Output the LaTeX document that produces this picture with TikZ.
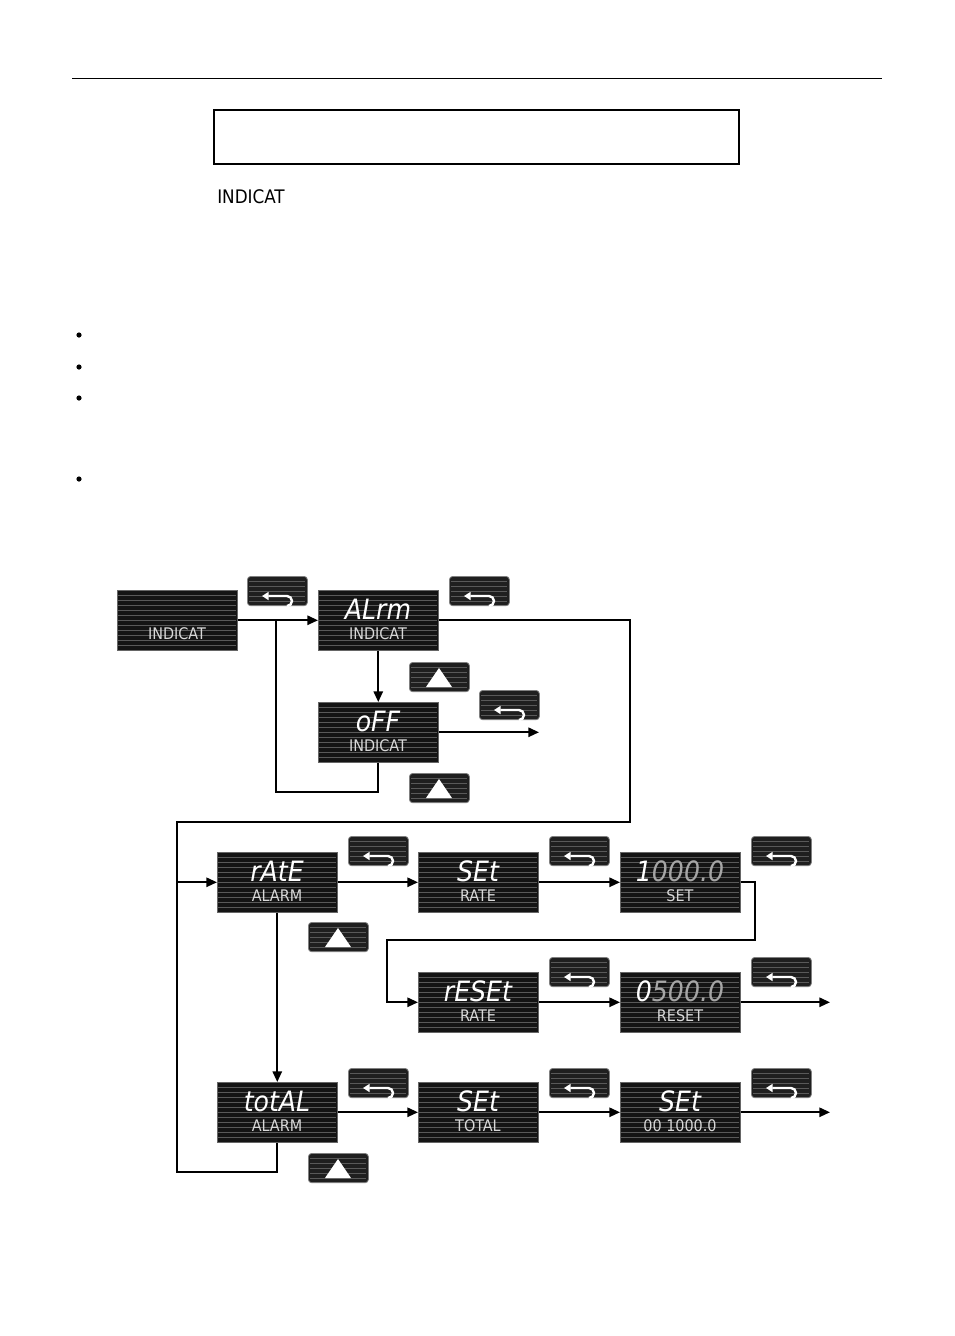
\documentclass[tikz,border=0pt]{standalone}
\usepackage{fontspec}
\setmainfont{DejaVu Sans}
\newfontfamily\lcd{DejaVu Sans Condensed}
\usetikzlibrary{arrows.meta}
\begin{document}
\begin{tikzpicture}[x=0.75pt,y=-0.75pt,
  conn/.style={line width=1.4pt},
  arr/.style={line width=1.4pt,-{Triangle[length=8pt,width=7pt]}},
  disp/.style={fill=black!92,draw=black!60,line width=0.4pt},
  btn/.style={fill=black!88,draw=black!50,rounded corners=2.5pt,line width=0.6pt}]
\useasboundingbox (0,0) rectangle (954,1336);
\fill[white] (0,0) rectangle (954,1336);
\draw[line width=0.6pt] (72,78) -- (882,78);
\draw[line width=0.8pt] (214,110) rectangle (739,164);
\node[anchor=west,inner sep=0,font=\lcd\fontsize{14}{14}\selectfont] (ind) at (217,197) {INDICAT};
\foreach \yy [count=\i] in {335,367,398,479} \fill (79,\yy) circle (2.6);
\newcommand\lcdbox[5]{% name, x, y, top, bottom
  \node[disp,minimum width=90pt,minimum height=45pt,inner sep=0,anchor=north west] (#1) at (#2,#3) {};
  \foreach \k in {1,...,11} \draw[black!65,line width=0.3pt] (#2+1,#3+5*\k) -- (#2+119,#3+5*\k);
  \node[white,font=\lcd\fontsize{21}{21}\selectfont\itshape] at (#2+60,#3+19) {#4};
  \node[white!85!black,font=\lcd\fontsize{12}{12}\selectfont] at (#2+60,#3+44) {#5};}
\newcommand\enterbtn[3]{%
  \node[btn,minimum width=45pt,minimum height=22pt,inner sep=0,anchor=north west] (#1) at (#2,#3) {};
  \foreach \k in {1,...,5} \draw[black!65,line width=0.3pt] (#2+2,#3+5*\k) -- (#2+58,#3+5*\k);
  \draw[white,line width=1.8pt,{Triangle[length=5pt,width=6pt]}-] (#2+15,#3+20) -- (#2+40,#3+20) arc[start angle=-90,end angle=90,radius=5];}
\newcommand\upbtn[3]{%
  \node[btn,minimum width=45pt,minimum height=22pt,inner sep=0,anchor=north west] (#1) at (#2,#3) {};
  \foreach \k in {1,...,5} \draw[black!65,line width=0.3pt] (#2+2,#3+5*\k) -- (#2+58,#3+5*\k);
  \fill[white] (#2+17,#3+25) -- (#2+43,#3+25) -- (#2+30,#3+6) -- cycle;}
\lcdbox{d0}{117}{590}{}{INDICAT}
\lcdbox{d1}{318}{590}{ALrm}{INDICAT}
\lcdbox{d2}{318}{702}{oFF}{INDICAT}
\lcdbox{ra}{217}{852}{rAtE}{ALARM}
\lcdbox{sr}{418}{852}{SEt}{RATE}
\lcdbox{v1}{620}{852}{1\textcolor{gray!70}{000.0}}{SET}
\lcdbox{rs}{418}{972}{rESEt}{RATE}
\lcdbox{v2}{620}{972}{0\textcolor{gray!70}{500.0}}{RESET}
\lcdbox{ta}{217}{1082}{totAL}{ALARM}
\lcdbox{st}{418}{1082}{SEt}{TOTAL}
\lcdbox{v3}{620}{1082}{SEt}{00 1000.0}
\enterbtn{e1}{247}{576}
\enterbtn{e2}{449}{576}
\enterbtn{e3}{479}{690}
\enterbtn{e4}{348}{836}
\enterbtn{e5}{549}{836}
\enterbtn{e6}{751}{836}
\enterbtn{e7}{549}{957}
\enterbtn{e8}{751}{957}
\enterbtn{e9}{348}{1068}
\enterbtn{e10}{549}{1068}
\enterbtn{e11}{751}{1068}
\upbtn{u1}{409}{662}
\upbtn{u2}{409}{773}
\upbtn{u3}{308}{922}
\upbtn{u4}{308}{1153}
\coordinate (o1) at (539,0);
\coordinate (o2) at (830,0);
\coordinate (j1) at (276,0);
\coordinate (j2) at (630,0);
\coordinate (j3) at (177,822);
\coordinate (j4) at (0,1172);
\coordinate (j5) at (755,0);
\coordinate (j6) at (387,940);
\draw[arr] (d0.east) -- (d1.west);
\draw[conn] (d2.south) |- (j1 |- 0,792) -- (j1 |- d0.east);
\draw[arr] (d1.south) -- (d2.north);
\draw[arr] (d2.east) -- (o1 |- d2.east);
\draw[conn] (d1.east) -- (j2 |- d1.east) |- (j3) |- (ta.south |- j4) -- (ta.south);
\draw[arr] (j3 |- ra.west) -- (ra.west);
\draw[arr] (ra.east) -- (sr.west);
\draw[arr] (sr.east) -- (v1.west);
\draw[arr] (v1.east) -- (j5 |- v1.east) |- (j6) |- (rs.west);
\draw[arr] (rs.east) -- (v2.west);
\draw[arr] (v2.east) -- (o2 |- v2.east);
\draw[arr] (ra.south) -- (ta.north);
\draw[arr] (ta.east) -- (st.west);
\draw[arr] (st.east) -- (v3.west);
\draw[arr] (v3.east) -- (o2 |- v3.east);
\end{tikzpicture}
\end{document}
